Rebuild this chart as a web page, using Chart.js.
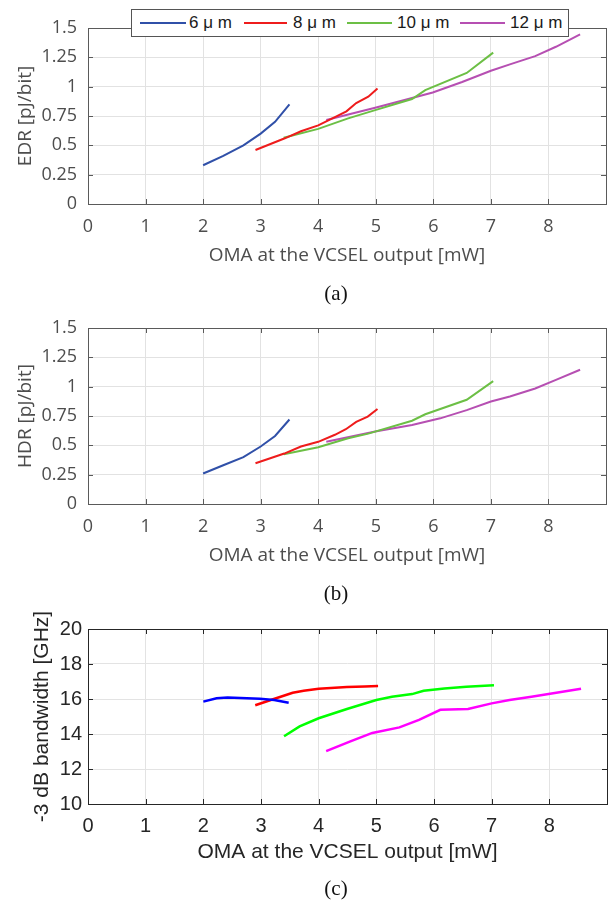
<!DOCTYPE html>
<html>
<head>
<meta charset="utf-8">
<script src="https://cdn.jsdelivr.net/npm/chart.js@4/dist/chart.umd.min.js"></script>
<style>
  html,body{margin:0;padding:0;background:#fff;}
  #wrap{position:relative;width:608px;height:905px;background:#fff;overflow:hidden;}
  .pane{position:absolute;left:0;}
  .cap{position:absolute;font-family:"Liberation Serif",serif;font-size:21px;color:#111;transform:translate(-50%,-50%);white-space:nowrap;}
  #legend{position:absolute;left:131px;top:9px;width:436px;height:26px;border:1px solid #555;background:#fff;font-family:"Liberation Sans",Arial,sans-serif;font-size:17px;color:#1a1a1a;}
  #legend .ln{position:absolute;top:12px;height:0;border-top:2px solid;}
  #legend .tx{position:absolute;top:2px;line-height:22px;white-space:nowrap;}
</style>
</head>
<body>
<div id="wrap">
  <div class="pane" style="top:0"><canvas id="cA" width="608" height="267"></canvas></div>
  <div class="pane" style="top:300px"><canvas id="cB" width="608" height="267"></canvas></div>
  <div class="pane" style="top:600px"><canvas id="cC" width="608" height="265"></canvas></div>
  <div id="legend"></div>
  <div class="cap" style="left:336px;top:293px">(a)</div>
  <div class="cap" style="left:336px;top:593px">(b)</div>
  <div class="cap" style="left:336px;top:888px">(c)</div>
</div>
<script>
// ---------- data ----------
const seriesNames = ["6 μ m", "8 μ m", "10 μ m", "12 μ m"];
const xTickLabels = [0, 1, 2, 3, 4, 5, 6, 7, 8];
const yTicksEnergy = [0, 0.25, 0.5, 0.75, 1, 1.25, 1.5];
const yTicksBw = [10, 12, 14, 16, 18, 20];

// (a) EDR
const edr6x = [2.0, 2.35, 2.7, 3.0, 3.25, 3.5];
const edr6y = [0.33, 0.41, 0.50, 0.60, 0.70, 0.85];
const edr8x = [2.91, 3.42, 3.70, 4.0, 4.29, 4.49, 4.66, 4.87, 5.03];
const edr8y = [0.46, 0.56, 0.62, 0.67, 0.74, 0.79, 0.86, 0.915, 0.985];
const edr10x = [3.40, 4.0, 4.52, 4.99, 5.63, 5.86, 6.58, 7.04];
const edr10y = [0.565, 0.64, 0.73, 0.80, 0.895, 0.97, 1.117, 1.29];
const edr12x = [4.14, 4.99, 5.45, 5.99, 6.50, 7.0, 7.33, 7.77, 8.13, 8.55];
const edr12y = [0.716, 0.82, 0.88, 0.95, 1.04, 1.136, 1.19, 1.26, 1.34, 1.446];

// (b) HDR
const hdr6x = [2.0, 2.35, 2.7, 3.0, 3.25, 3.5];
const hdr6y = [0.26, 0.33, 0.40, 0.49, 0.58, 0.72];
const hdr8x = [2.91, 3.41, 3.70, 4.0, 4.29, 4.48, 4.66, 4.86, 5.03];
const hdr8y = [0.347, 0.43, 0.49, 0.53, 0.59, 0.637, 0.70, 0.745, 0.81];
const hdr10x = [3.40, 4.0, 4.52, 4.87, 5.63, 5.86, 6.58, 7.04];
const hdr10y = [0.424, 0.484, 0.56, 0.60, 0.71, 0.765, 0.888, 1.047];
const hdr12x = [4.14, 4.99, 5.63, 6.12, 6.58, 7.0, 7.33, 7.77, 8.13, 8.55];
const hdr12y = [0.53, 0.617, 0.674, 0.73, 0.80, 0.873, 0.916, 0.984, 1.058, 1.144];

// (c) -3 dB bandwidth
const bw6x = [2.0, 2.23, 2.42, 2.98, 3.23, 3.48];
const bw6y = [15.85, 16.04, 16.08, 16.02, 15.94, 15.79];
const bw8x = [2.90, 3.17, 3.55, 3.74, 4.0, 4.49, 4.80, 5.03];
const bw8y = [15.64, 15.94, 16.36, 16.47, 16.58, 16.68, 16.72, 16.74];
const bw10x = [3.40, 3.67, 4.0, 4.49, 5.0, 5.27, 5.62, 5.82, 6.18, 6.56, 7.04];
const bw10y = [13.87, 14.43, 14.9, 15.43, 15.94, 16.13, 16.28, 16.47, 16.6, 16.7, 16.79];
const bw12x = [4.13, 4.55, 4.93, 5.40, 5.74, 6.11, 6.59, 7.0, 7.31, 7.69, 8.55];
const bw12y = [13.02, 13.58, 14.06, 14.38, 14.81, 15.38, 15.43, 15.75, 15.94, 16.13, 16.58];

// ---------- styling ----------
const colorsAB = ["#3050a8", "#ee1c1c", "#6cbf45", "#b64fb2"];
const colorsC = ["#0000ff", "#ff0000", "#00ff00", "#ff00ff"];
const xTitle = "OMA at the VCSEL output [mW]";

function pts(xs, ys){ return xs.map((x, i) => ({x: x, y: ys[i]})); }

const boxPlugin = {
  id: 'box',
  afterDatasetsDraw(chart, args, opts){
    const {ctx, chartArea: {left, right, top, bottom}, scales: {x, y}} = chart;
    ctx.save();
    ctx.strokeStyle = opts.color;
    ctx.lineWidth = opts.width;
    ctx.beginPath();
    const L = 5;
    x.ticks.forEach(t => {
      const px = Math.round(x.getPixelForValue(t.value)) + 0.5;
      ctx.moveTo(px, bottom); ctx.lineTo(px, bottom - L);
      ctx.moveTo(px, top); ctx.lineTo(px, top + L);
    });
    y.ticks.forEach(t => {
      const py = Math.round(y.getPixelForValue(t.value)) + 0.5;
      ctx.moveTo(left, py); ctx.lineTo(left + L, py);
      ctx.moveTo(right, py); ctx.lineTo(right - L, py);
    });
    ctx.stroke();
    ctx.strokeRect(Math.round(left) + 0.5, Math.round(top) + 0.5, Math.round(right - left), Math.round(bottom - top));
    ctx.restore();
  }
};

function makeChart(id, sets, colors, yTicks, yMin, yMax, yTitle, cfg){
  const datasets = sets.map((s, i) => ({
    label: seriesNames[i],
    data: pts(s[0], s[1]),
    borderColor: colors[i],
    backgroundColor: colors[i],
    borderWidth: cfg.lw,
    pointRadius: 0,
    tension: 0,
    fill: false
  }));
  return new Chart(document.getElementById(id), {
    type: 'line',
    data: {datasets: datasets},
    plugins: [boxPlugin],
    options: {
      responsive: false,
      animation: false,
      devicePixelRatio: 1,
      layout: {padding: {left: 0, right: cfg.padRight, top: cfg.padTop, bottom: 0}},
      plugins: {legend: {display: false}, tooltip: {enabled: false}, box: {color: cfg.boxColor, width: 1}},
      scales: {
        x: {
          type: 'linear', min: 0, max: 9,
          afterBuildTicks: s => { s.ticks = xTickLabels.map(v => ({value: v})); },
          afterFit: s => { s.height = cfg.xAxisH; },
          grid: {color: cfg.gridColor, drawTicks: false, lineWidth: 1},
          border: {display: false},
          ticks: {color: cfg.textColor, font: {family: cfg.font, size: cfg.tickSize}, padding: cfg.xTickPad, maxRotation: 0, autoSkip: false,
                  callback: v => String(v)},
          title: {display: true, text: xTitle, color: cfg.textColor, font: {family: cfg.font, size: cfg.titleSize}, padding: {top: 0, bottom: 0}}
        },
        y: {
          type: 'linear', min: yMin, max: yMax,
          afterBuildTicks: s => { s.ticks = yTicks.map(v => ({value: v})); },
          afterFit: s => { s.width = 88; },
          grid: {color: cfg.gridColor, drawTicks: false, lineWidth: 1},
          border: {display: false},
          ticks: {color: cfg.textColor, font: {family: cfg.font, size: cfg.tickSize}, padding: cfg.yTickPad, autoSkip: false,
                  callback: v => String(v)},
          title: {display: true, text: yTitle, color: cfg.textColor, font: {family: cfg.font, size: cfg.titleSize}, padding: {top: cfg.yTitlePad, bottom: 0}}
        }
      }
    }
  });
}

const cfgAB = {lw: 2, padRight: 2, padTop: 28, xAxisH: 63, gridColor: '#e2e2e2', boxColor: '#5a5a5a',
  textColor: '#4d4d4d', font: '"Open Sans", sans-serif', tickSize: 18, titleSize: 19, xTickPad: 12, yTickPad: 11, yTitlePad: 14};
const cfgC = {lw: 2.5, padRight: 1, padTop: 29, xAxisH: 61, gridColor: '#e3e3e3', boxColor: '#262626',
  textColor: '#262626', font: '"Liberation Sans", Arial, sans-serif', tickSize: 20, titleSize: 21, xTickPad: 10, yTickPad: 6, yTitlePad: 30};

makeChart('cA', [[edr6x, edr6y], [edr8x, edr8y], [edr10x, edr10y], [edr12x, edr12y]], colorsAB, yTicksEnergy, 0, 1.5, 'EDR [pJ/bit]', cfgAB);
makeChart('cB', [[hdr6x, hdr6y], [hdr8x, hdr8y], [hdr10x, hdr10y], [hdr12x, hdr12y]], colorsAB, yTicksEnergy, 0, 1.5, 'HDR [pJ/bit]', cfgAB);
makeChart('cC', [[bw6x, bw6y], [bw8x, bw8y], [bw10x, bw10y], [bw12x, bw12y]], colorsC, yTicksBw, 10, 20, '-3 dB bandwidth [GHz]', cfgC);

// legend (panel a)
const legendLines = [[8, 54], [112, 155], [215, 260], [328, 373]];
const legendText = [57, 161, 265, 378];
const lg = document.getElementById('legend');
seriesNames.forEach((n, i) => {
  const l = document.createElement('div');
  l.className = 'ln';
  l.style.left = legendLines[i][0] + 'px';
  l.style.width = (legendLines[i][1] - legendLines[i][0]) + 'px';
  l.style.borderTopColor = colorsAB[i];
  lg.appendChild(l);
  const t = document.createElement('div');
  t.className = 'tx';
  t.style.left = legendText[i] + 'px';
  t.textContent = n;
  lg.appendChild(t);
});
</script>
</body>
</html>
